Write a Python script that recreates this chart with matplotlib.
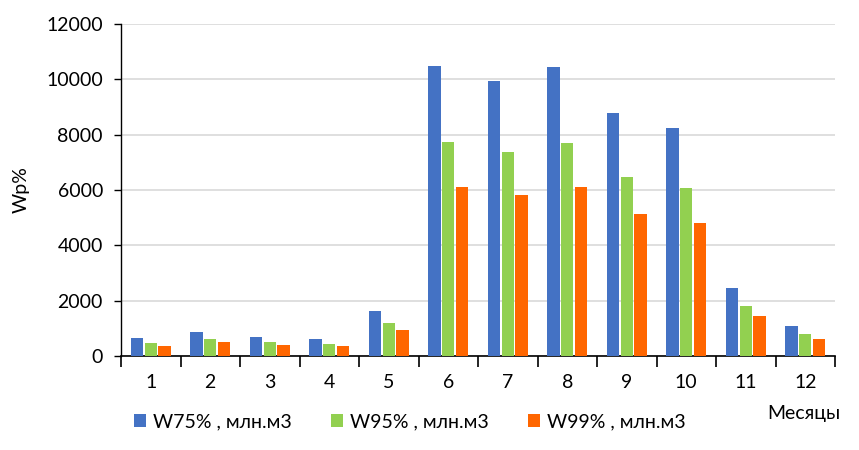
import numpy as np
import matplotlib.pyplot as plt

plt.rcParams['font.family'] = ['Lato', 'DejaVu Sans']

# ---------------- Data ----------------
months = [1, 2, 3, 4, 5, 6, 7, 8, 9, 10, 11, 12]
w75 = [650, 870, 690, 615, 1630, 10500, 9950, 10460, 8790, 8250, 2460, 1080]
w95 = [470, 615, 505, 435, 1190, 7740, 7380, 7710, 6480, 6080, 1800, 790]
w99 = [360, 505, 400, 360, 940, 6110, 5820, 6110, 5130, 4810, 1440, 610]
series_names = ['W75% , млн.м3', 'W95% , млн.м3', 'W99% , млн.м3']
colors = ['#4472C4', '#92D050', '#FF6600']

fs = 14

# ---------------- Plot ----------------
fig = plt.figure(figsize=(8.59, 4.5), dpi=100)
ax = fig.add_axes([121/859, 1 - 356/450, (835 - 121)/859, (356 - 24)/450])

x = np.arange(len(months))
width = 0.21
step = 0.235
for i, (vals, name, c) in enumerate(zip([w75, w95, w99], series_names, colors)):
    ax.bar(x + (i - 1) * step, vals, width, color=c, label=name, zorder=3)

ax.set_xlim(-0.5, len(months) - 0.5)
ax.set_ylim(0, 12000)
ax.set_yticks(np.arange(0, 12001, 2000))
ax.grid(axis='y', color='#d9d9d9', linewidth=1.2, zorder=0)

# category boundaries as ticks, labels at centres
ax.set_xticks(np.arange(-0.5, len(months), 1))
ax.set_xticklabels([])
ax.set_xticks(x, minor=True)
ax.set_xticklabels([str(m) for m in months], minor=True)
ax.tick_params(axis='x', which='major', length=8, width=1.2, color='black')
ax.tick_params(axis='x', which='minor', length=0, pad=13, labelsize=fs)
ax.tick_params(axis='y', length=5, width=1, labelsize=fs, pad=8)

for side in ['top', 'right']:
    ax.spines[side].set_visible(False)
ax.spines['left'].set_linewidth(1.0)
ax.spines['bottom'].set_linewidth(1.2)

ax.set_ylabel('Wp%', fontsize=fs, labelpad=12)
fig.text(840/859, 1 - 413/450, 'Месяцы', fontsize=fs, ha='right', va='center')

fig.legend(loc='center', bbox_to_anchor=(410/859, 1 - 422/450), ncol=3,
           frameon=False, fontsize=fs, handlelength=0.6, handleheight=0.6,
           handletextpad=0.4, columnspacing=2.0)

fig.savefig('out.png', dpi=100)
